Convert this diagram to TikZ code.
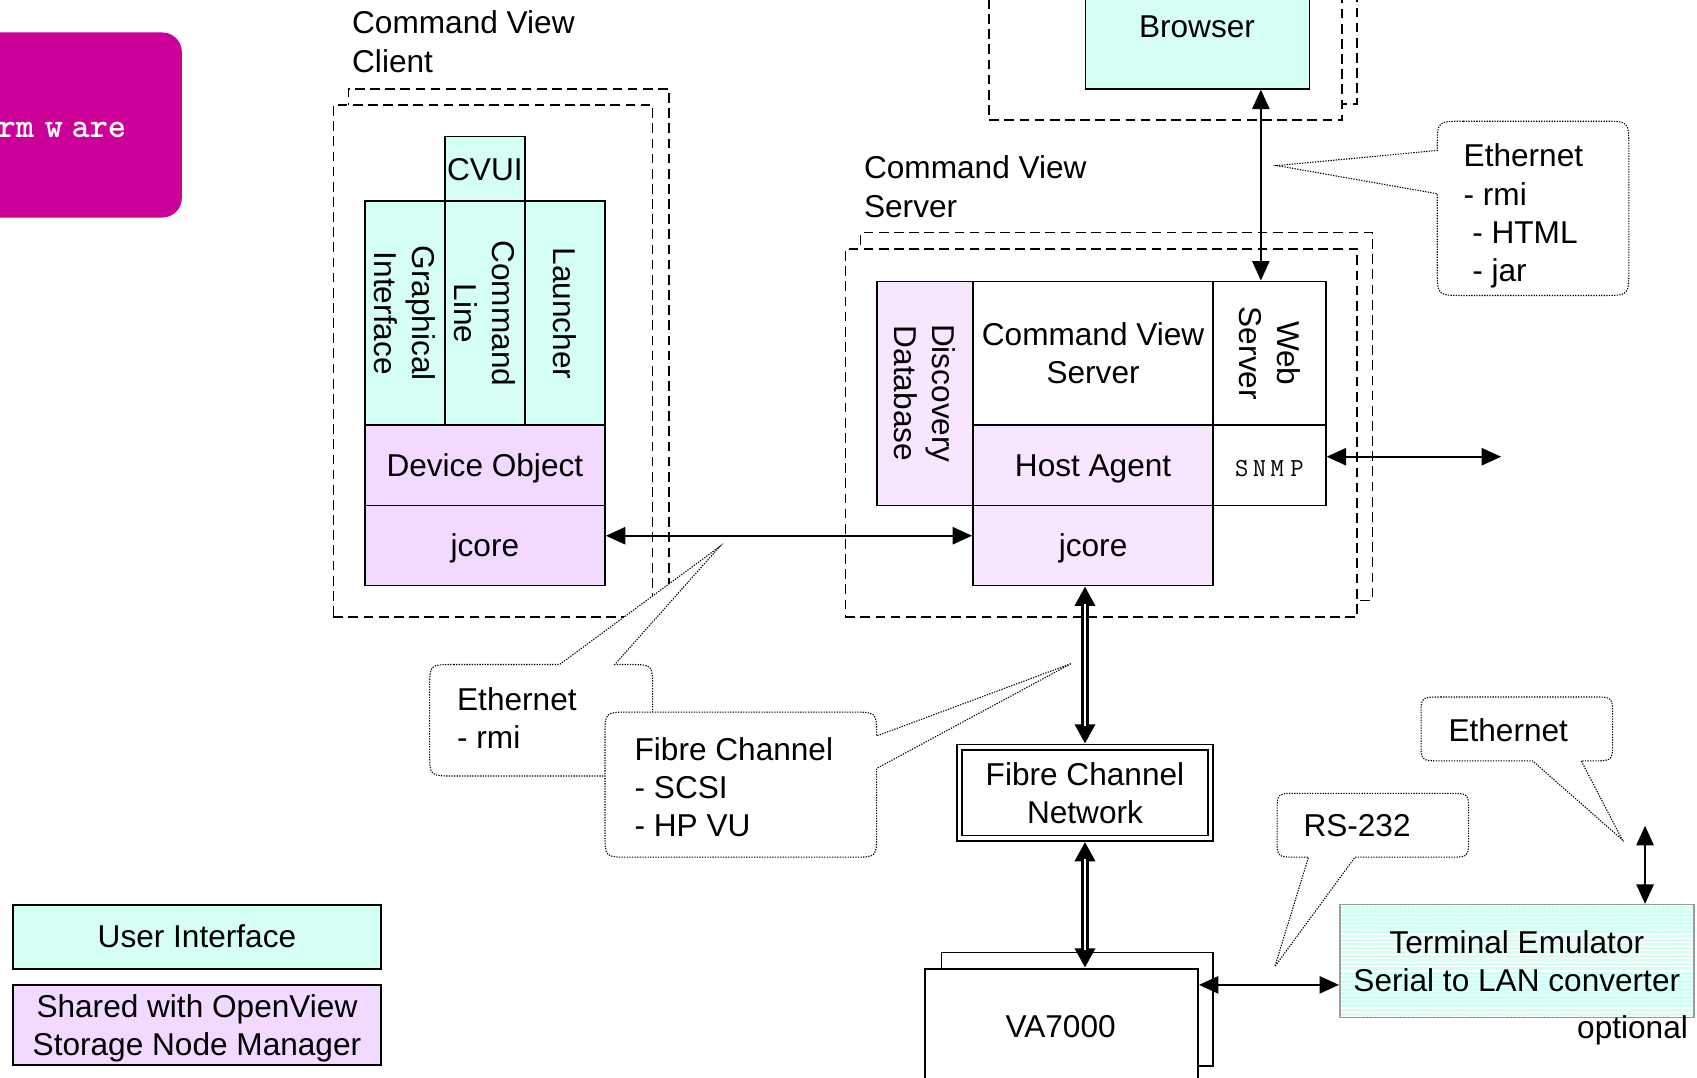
\documentclass[tikz,border=0pt]{standalone}
\usepackage{fontspec}
\setmainfont{Liberation Sans}
\usetikzlibrary{arrows.meta,fit,patterns.meta,calc}
\definecolor{uicyan}{RGB}{213,255,244}
\definecolor{shpink}{RGB}{242,217,255}
\definecolor{shpinkb}{RGB}{248,230,255}
\definecolor{mag}{RGB}{204,0,153}
\begin{document}
\begin{tikzpicture}[x=0.5pt,y=-0.5pt,
  every node/.style={font=\fontsize{14.6}{17.6}\selectfont, inner sep=0pt},
  box/.style={draw, line width=0.8pt, inner sep=0pt},
  dbox/.style={draw, dash pattern=on 4.5pt off 2.5pt, line width=0.7pt, inner sep=0pt},
  arr/.style={line width=0.75pt, {Triangle[length=9pt,width=8pt]}-{Triangle[length=9pt,width=8pt]}},
  darr/.style={line width=3.6pt, {Triangle[length=9pt,width=9pt]}-{Triangle[length=9pt,width=9pt]}},
  dinner/.style={white, line width=1.2pt, shorten <=8pt, shorten >=8pt},
  callout/.style={draw, fill=white, line width=0.5pt, dash pattern=on 0.6pt off 0.6pt},
  lbl/.style={anchor=west, align=left},
  captext/.style={text height=10.4pt, text depth=0pt},
  vtxt/.style={rotate=-90, align=center}]
\useasboundingbox (0,0) rectangle (1568,996);
\clip (0,0) rectangle (1568,996);

% magenta box
\node[fill=mag, rounded corners=9pt, fit={(-40,30)(168,201)}] (mag) {};
\node[anchor=base east, text=white, font=\ttfamily\bfseries\fontsize{16}{18}\selectfont] (magt) at (117,127) {rm\kern5pt w\kern4pt are};

% client
\node[dbox, fit={(322,82)(618,555)}] (cback) {};
\node[dbox, fill=white, fit={(308,97)(603,570)}] (cfront) {};
\node[lbl] (cvcl) at (325,38.5) {Command View\\Client};
\node[box, fill=uicyan, fit={(411,126)(485,186)}] (cvui) {};
\node[captext] (cvuit) at (cvui.center) {CVUI};
\node[box, fill=uicyan, fit={(337,186)(411,393)}] (gui) {};
\node[vtxt] (guit) at (gui.center) {Graphical\\Interface};
\node[box, fill=uicyan, fit={(411,186)(485,393)}] (cli) {};
\node[vtxt] (clit) at (cli.center) {Command\\Line};
\node[box, fill=uicyan, fit={(485,186)(559,393)}] (lau) {};
\node[vtxt] (laut) at (lau.center) {Launcher};
\node[box, fill=shpink, fit={(337,393)(559,467)}] (devo) {};
\node[captext] (devot) at (devo.center) {Device Object};
\node[box, fill=shpink, fit={(337,467)(559,541)}] (cjcore) {};
\node[captext] (cjcoret) at (cjcore.center) {jcore};

% server
\node[dbox, fit={(795,215)(1268,555)}] (sback) {};
\node[dbox, fill=white, fit={(781,230)(1254,570)}] (sfront) {};
\node[lbl] (cvsl) at (798,172.5) {Command View\\Server};
\node[box, fill=shpinkb, fit={(810,260)(899,467)}] (disc) {};
\node[vtxt] (disct) at (disc.center) {Discovery\\Database};
\node[box, fill=white, fit={(899,260)(1121,393)}] (cvs) {};
\node[align=center] (cvst) at (cvs.center) {Command View\\Server};
\node[box, fill=white, fit={(1121,260)(1225,393)}] (web) {};
\node[vtxt] (webt) at (web.center) {Web\\Server};
\node[box, fill=shpinkb, fit={(899,393)(1121,467)}] (ha) {};
\node[captext] (hat) at (ha.center) {Host Agent};
\node[box, fill=white, fit={(1121,393)(1225,467)}] (snmp) {};
\node[font=\ttfamily\fontsize{12}{14}\selectfont] (snmpt) at ([yshift=-1.5pt]snmp.center) {S\kern2pt N\kern2pt M\kern3pt P};
\node[box, fill=shpinkb, fit={(899,467)(1121,541)}] (sjcore) {};
\node[captext] (sjcoret) at (sjcore.center) {jcore};

% browser
\node[dbox, fit={(928,-40)(1254,96)}] (bback) {};
\node[dbox, fill=white, fit={(914,-25)(1240,111)}] (bfront) {};
\node[box, fill=uicyan, fit={(1003,-40)(1210,82)}] (brow) {};
\node[captext] (browt) at (1106,24) {Browser};

% fibre channel network
\node[box, fit={(884,688)(1121,777)}] (fcn) {};
\node[box, fit={(889,693)(1116,772)}] (fcni) {};
\node[align=center] (fcnt) at (fcni.center) {Fibre Channel\\Network};

% VA7000
\node[box, fill=white, fit={(870,880)(1121,985)}] (vaback) {};
\node[box, fill=white, fit={(855,895)(1107,1030)}] (va) {};
\node[captext] (vat) at (980,948) {VA7000};

% terminal emulator
\node[draw=black!40, line width=0.8pt, fill=uicyan, fit={(1238,836)(1565,940)}] (te) {};
\path[pattern={Lines[angle=0,distance=1.9pt,line width=0.5pt]}, pattern color=white]
  ($(te.south west)+(1.5,-1.5)$) rectangle ($(te.north east)+(-1.5,1.5)$);
\node[align=center] (tet) at (te.center) {Terminal Emulator\\Serial to LAN converter};
\node[anchor=east] (opt) at (1560,952) {optional};

% legend
\node[box, fill=uicyan, fit={(12,836)(352,895)}] (lui) {};
\node[captext] (luit) at (lui.center) {User Interface};
\node[box, fill=shpink, fit={(12,910)(352,984)}] (lsh) {};
\node[align=center] (lsht) at ([yshift=-1.5pt]lsh.center) {Shared with OpenView\\Storage Node Manager};

% connectors
\coordinate (xa) at (1165,0);
\draw[arr] (brow.south -| xa) -- (web.north -| xa);
\draw[arr] ([yshift=4.5pt]cjcore.east) -- ([yshift=4.5pt]sjcore.west);
\coordinate (snmpend) at (1387,422);
\draw[arr] (snmp.east |- snmpend) -- (snmpend);
\coordinate (ethtop) at (1520,763);
\draw[arr] (ethtop) -- (ethtop |- te.north);
\coordinate (yva) at (0,910);
\draw[arr] (va.east |- yva) -- (te.west |- yva);
\draw[darr] (fcn.north |- sjcore.south) -- (fcn.north);
\draw[dinner] (fcn.north |- sjcore.south) -- (fcn.north);
\draw[darr] (fcn.south) -- (fcn.south |- va.north);
\draw[dinner] (fcn.south) -- (fcn.south |- va.north);

% callouts
\draw[callout] (419,614) -- (517,614) -- (665,505) -- (568,614) -- (581,614) .. controls (603,614) .. (603,636) -- (603,695) .. controls (603,717) .. (581,717) -- (419,717) .. controls (397,717) .. (397,695) -- (397,636) .. controls (397,614) .. (419,614) -- cycle;
\draw[callout] (581,658) -- (788,658) .. controls (810,658) .. (810,680) -- (990,613) -- (810,710) -- (810,770) .. controls (810,792) .. (788,792) -- (581,792) .. controls (559,792) .. (559,770) -- (559,680) .. controls (559,658) .. (581,658) -- cycle;
\draw[callout] (1352,112) -- (1481,112) .. controls (1505,112) .. (1505,136) -- (1505,249) .. controls (1505,273) .. (1481,273) -- (1352,273) .. controls (1328,273) .. (1328,249) -- (1328,179) -- (1180,153) -- (1328,139) -- (1328,136) .. controls (1328,112) .. (1352,112) -- cycle;
\draw[callout] (1198,733) -- (1339,733) .. controls (1357,733) .. (1357,751) -- (1357,774) .. controls (1357,792) .. (1339,792) -- (1252,792) -- (1178,893) -- (1209,792) -- (1198,792) .. controls (1180,792) .. (1180,774) -- (1180,751) .. controls (1180,733) .. (1198,733) -- cycle;
\draw[callout] (1331,644) -- (1472,644) .. controls (1490,644) .. (1490,662) -- (1490,685) .. controls (1490,703) .. (1472,703) -- (1461,703) -- (1499,776) -- (1416,703) -- (1331,703) .. controls (1313,703) .. (1313,685) -- (1313,662) .. controls (1313,644) .. (1331,644) -- cycle;

\node[lbl] (e1t) at (422,663.5) {Ethernet\\- rmi};
\node[lbl] (fct) at (586,727) {Fibre Channel\\- SCSI\\- HP VU};
\node[lbl] (e3t) at (1352,199.5) {Ethernet\\- rmi\\\hspace*{4pt}- HTML\\\hspace*{4pt}- jar};
\node[lbl] (rst) at (1204,763) {RS-232};
\node[lbl] (e5t) at (1338,675) {Ethernet};
\end{tikzpicture}
\end{document}
